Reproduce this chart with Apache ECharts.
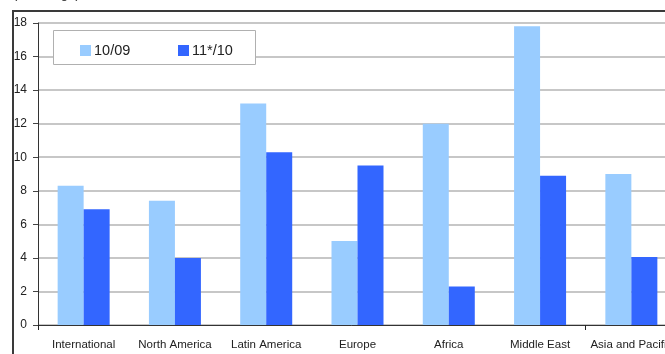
<!DOCTYPE html>
<html>
<head>
<meta charset="utf-8">
<script src="https://cdn.jsdelivr.net/npm/echarts@6/dist/echarts.min.js"></script>
<style>
  html, body { margin: 0; padding: 0; background: #fff; }
  #chart { width: 665px; height: 354px; }
</style>
</head>
<body>
<div id="chart"></div>
<script>
// Regions and growth rates (% change)
const categories = ['International', 'North America', 'Latin America', 'Europe', 'Africa', 'Middle East', 'Asia and Pacific'];
const series1009 = [8.3, 7.4, 13.2, 5.0, 12.0, 17.8, 9.0];
const series1110 = [6.9, 4.0, 10.3, 9.5, 2.3, 8.9, 4.05];
const seriesNames = ['10/09', '11*/10'];
const yTicks = [0, 2, 4, 6, 8, 10, 12, 14, 16, 18];

const FONT = '"Liberation Sans", Arial, sans-serif';
const colors = ['#99ccff', '#3366ff'];

const chart = echarts.init(document.getElementById('chart'), null, { renderer: 'canvas' });

const legendCommon = {
  padding: 0,
  itemWidth: 11, itemHeight: 11,
  itemGap: 4,
  icon: 'rect',
  textStyle: { fontFamily: FONT, fontSize: 14.5, color: '#222', padding: [2, 0, 0, -2] }
};

chart.setOption({
  animation: false,
  backgroundColor: '#ffffff',
  grid: { left: 38, top: 23, right: -12, bottom: 29, containLabel: false, outerBoundsMode: 'none' },
  legend: [
    Object.assign({ left: 80, top: 43, data: [seriesNames[0]] }, legendCommon),
    Object.assign({ left: 178, top: 43, data: [seriesNames[1]] }, legendCommon)
  ],
  xAxis: {
    type: 'category',
    data: categories,
    axisLine: { lineStyle: { color: '#333', width: 1 } },
    axisTick: {
      show: true, length: 5,
      interval: function (i) { return i === 0 || i === 6; },
      lineStyle: { color: '#222' }
    },
    axisLabel: { interval: 0, fontFamily: FONT, fontSize: 11.5, color: '#222', margin: 14 }
  },
  yAxis: {
    type: 'value',
    min: yTicks[0], max: yTicks[yTicks.length - 1], interval: 2,
    axisLine: { show: true, lineStyle: { color: '#333', width: 1 } },
    axisTick: { show: true, length: 5, lineStyle: { color: '#444' } },
    axisLabel: { fontFamily: FONT, fontSize: 12, color: '#222', margin: 11 },
    splitLine: { lineStyle: { color: '#b4b4b4', width: 1.5 } }
  },
  series: [
    {
      name: seriesNames[0], type: 'bar', data: series1009,
      itemStyle: { color: colors[0] },
      barWidth: 26, barGap: '0%'
    },
    {
      name: seriesNames[1], type: 'bar', data: series1110,
      itemStyle: { color: colors[1] },
      barWidth: 26, barGap: '0%'
    }
  ],
  graphic: [
    { type: 'text', left: 13, top: -12, style: { text: '(% change)', font: '13px ' + FONT, fill: '#222' } },
    { type: 'line', shape: { x1: 12, y1: 11, x2: 665, y2: 11 }, style: { stroke: '#3a3a3a', lineWidth: 2 } },
    { type: 'line', shape: { x1: 13, y1: 10, x2: 13, y2: 354 }, style: { stroke: '#3a3a3a', lineWidth: 2 } },
    // legend frame
    { type: 'rect', z: 1, shape: { x: 53.5, y: 30.5, width: 202, height: 34 }, style: { fill: '#ffffff', stroke: '#b0b0b0', lineWidth: 1 } }
  ]
});
</script>
</body>
</html>
